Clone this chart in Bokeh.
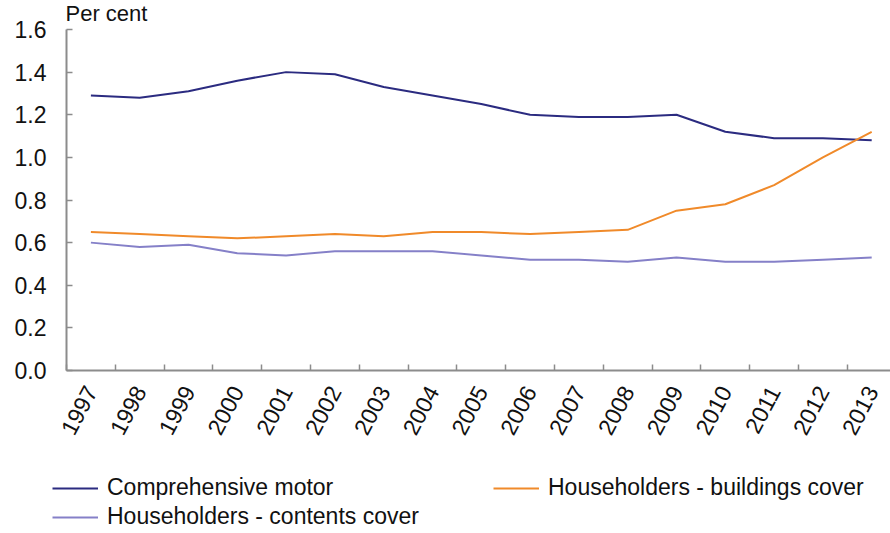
import math
from bokeh.plotting import figure
from bokeh.models import (Range1d, FixedTicker, NumeralTickFormatter, Legend,
                          LegendItem, Label)
from bokeh.embed import file_html
from bokeh.resources import INLINE

years = [str(y) for y in range(1997, 2014)]
motor = [1.29, 1.28, 1.31, 1.36, 1.40, 1.39, 1.33, 1.29, 1.25, 1.20, 1.19,
         1.19, 1.20, 1.12, 1.09, 1.09, 1.08]
buildings = [0.65, 0.64, 0.63, 0.62, 0.63, 0.64, 0.63, 0.65, 0.65, 0.64, 0.65,
             0.66, 0.75, 0.78, 0.87, 1.00, 1.12]
contents = [0.60, 0.58, 0.59, 0.55, 0.54, 0.56, 0.56, 0.56, 0.54, 0.52, 0.52,
            0.51, 0.53, 0.51, 0.51, 0.52, 0.53]
y_ticks = [0.0, 0.2, 0.4, 0.6, 0.8, 1.0, 1.2, 1.4, 1.6]
series_names = ["Comprehensive motor", "Householders - buildings cover",
                "Householders - contents cover"]
colors = ["#2B2B80", "#F08A2A", "#8580C8"]

FONT = "Liberation Sans"
AXIS_COLOR = "#8C8C8C"
TEXT_COLOR = "#111111"

W, H = 890, 533
TOP = 29            # pixel row of value 1.6
ZERO_Y = 370        # pixel row of value 0
AX_LEFT = 66        # pixel column of the y axis
STEP = 48.8         # pixels per category

y_scale = (ZERO_Y - TOP) / 1.6
y_lo = -(H - ZERO_Y) / y_scale
y_hi = 1.6 + TOP / y_scale
x_lo = -0.5 - AX_LEFT / STEP
x_hi = x_lo + W / STEP

xs = list(range(len(years)))

p = figure(width=W, height=H, output_backend="svg", toolbar_location=None,
           x_range=Range1d(x_lo, x_hi), y_range=Range1d(y_lo, y_hi),
           min_border_left=0, min_border_right=0, min_border_top=0,
           min_border_bottom=0)
p.outline_line_color = None
p.grid.visible = False
p.background_fill_color = "white"
p.border_fill_color = "white"

renderers = []
for vals, col in zip([motor, buildings, contents], colors):
    r = p.line(xs, vals, line_color=col, line_width=2)
    renderers.append(r)

p.add_layout(Label(x=-0.5, y=1.6, text="Per cent", x_offset=-1, y_offset=4,
                   text_baseline="bottom", text_align="left",
                   text_font=FONT, text_font_size="22px",
                   text_color=TEXT_COLOR))

# x axis (drawn at value 0)
xa = p.xaxis[0]
xa.fixed_location = 0
xa.bounds = (-0.5, x_hi)
xa.ticker = FixedTicker(ticks=xs, minor_ticks=[i - 0.5 for i in range(len(years) + 1)])
xa.major_label_overrides = {i: y for i, y in enumerate(years)}
xa.major_tick_in = 0
xa.major_tick_out = 0
xa.minor_tick_in = 6
xa.minor_tick_out = 0
xa.minor_tick_line_color = AXIS_COLOR
xa.minor_tick_line_width = 1.5
xa.axis_line_color = AXIS_COLOR
xa.axis_line_width = 2
xa.major_label_orientation = math.radians(62)
xa.major_label_text_font = FONT
xa.major_label_text_font_size = "23px"
xa.major_label_text_color = TEXT_COLOR
xa.major_label_standoff = 17

# y axis (drawn at the left edge of the first category)
ya = p.yaxis[0]
ya.fixed_location = -0.5
ya.bounds = (0, 1.6)
ya.ticker = FixedTicker(ticks=y_ticks)
ya.formatter = NumeralTickFormatter(format="0.0")
ya.major_tick_in = 6
ya.major_tick_out = 0
ya.minor_tick_in = 0
ya.minor_tick_out = 0
ya.major_tick_line_color = AXIS_COLOR
ya.major_tick_line_width = 1.5
ya.axis_line_color = AXIS_COLOR
ya.axis_line_width = 2
ya.major_label_text_font = FONT
ya.major_label_text_font_size = "23px"
ya.major_label_text_color = TEXT_COLOR
ya.major_label_standoff = 20

common = dict(border_line_color=None, background_fill_alpha=0,
              padding=0, margin=0, glyph_width=46, glyph_height=22,
              label_height=22, label_standoff=9, label_text_font=FONT,
              label_text_font_size="23px", label_text_color=TEXT_COLOR,
              orientation="horizontal")

leg1 = Legend(items=[LegendItem(label=series_names[0], renderers=[renderers[0]]),
                     LegendItem(label=series_names[1], renderers=[renderers[1]])],
              location=(52, H - 501), spacing=7, label_width=379, **common)
leg2 = Legend(items=[LegendItem(label=series_names[2], renderers=[renderers[2]])],
              location=(52, H - 530), spacing=0, **common)
p.add_layout(leg1, "center")
p.add_layout(leg2, "center")

open("out.html", "w").write(file_html(p, INLINE))
